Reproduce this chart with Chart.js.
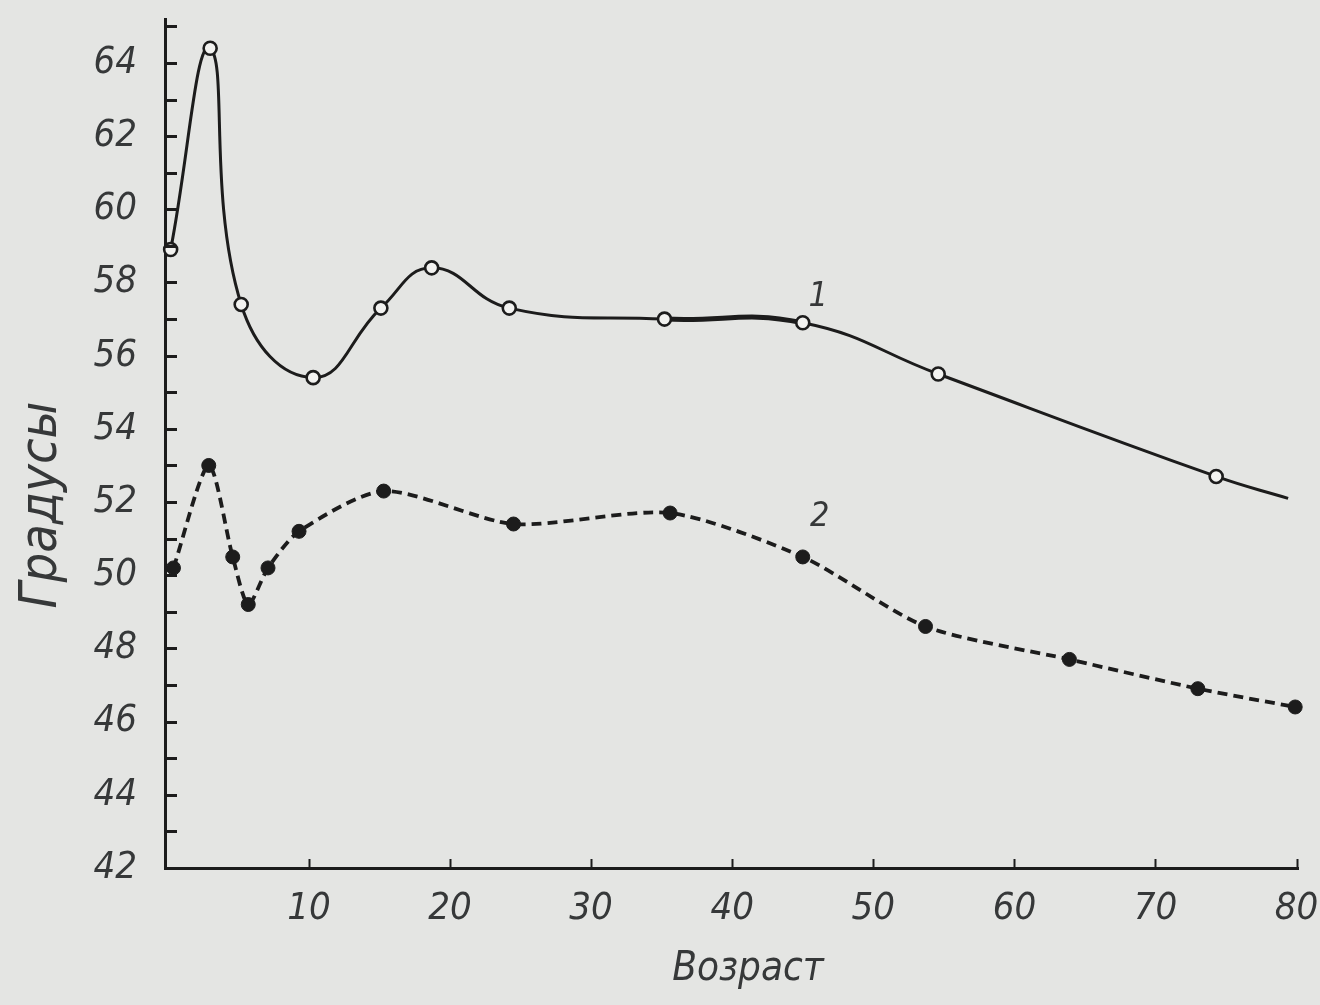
<!DOCTYPE html>
<html>
<head>
<meta charset="utf-8">
<script src="https://cdn.jsdelivr.net/npm/chart.js@4.4.0/dist/chart.umd.min.js"></script>
<style>
  html, body { margin: 0; padding: 0; background: #e4e5e3; }
  #wrap { position: relative; width: 1320px; height: 1005px; }
</style>
</head>
<body>
<div id="wrap"><canvas id="chart" width="1320" height="1005"></canvas></div>
<script>
// Curve 1: open circles, solid line (age in years, degrees)
const ages1 = [0.2, 3, 5.2, 10.3, 15.1, 18.7, 24.2, 35.2, 45, 54.6, 74.3, 79.4];
const degrees1 = [58.9, 64.4, 57.4, 55.4, 57.3, 58.4, 57.3, 57.0, 56.9, 55.5, 52.7, 52.1];

// Curve 2: filled dots, dashed line
const ages2 = [0.4, 2.9, 4.6, 5.7, 7.1, 9.3, 15.3, 24.5, 35.6, 45, 53.7, 63.9, 73, 79.9];
const degrees2 = [50.2, 53.0, 50.5, 49.2, 50.2, 51.2, 52.3, 51.4, 51.7, 50.5, 48.6, 47.7, 46.9, 46.4];

// Axis settings
const xMin = -0.2, xMax = 80.1, xStep = 10;
const yMin = 42, yMax = 65.2, yStep = 1;
const yLabelEvery = 2;

// Curve labels
const curveLabels = [
  { text: '1', x: 46.1, y: 57.6 },
  { text: '2', x: 46.2, y: 51.6 }
];

const axisTitleX = 'Возраст';
const axisTitleY = 'Градусы';

const FONT = "'DejaVu Sans Condensed', 'Liberation Sans Narrow', 'DejaVu Sans', sans-serif";
const INK = '#1c1c1c';
const TEXT = '#363839';

const toPoints = (xs, ys) => xs.map((x, i) => ({ x, y: ys[i] }));

// Inward tick marks, curve numbers and axis titles
const decorations = {
  id: 'decorations',
  afterDraw(chart) {
    const { ctx, chartArea } = chart;
    const xs = chart.scales.x, ys = chart.scales.y;
    ctx.save();
    ctx.strokeStyle = INK;
    ctx.lineCap = 'butt';

    ctx.lineWidth = 3;
    ys.ticks.forEach(t => {
      if (t.value <= yMin) return;
      const py = Math.round(ys.getPixelForValue(t.value)) + 0.5;
      ctx.beginPath();
      ctx.moveTo(chartArea.left, py);
      ctx.lineTo(chartArea.left + 12, py);
      ctx.stroke();
    });

    ctx.lineWidth = 2;
    xs.ticks.forEach(t => {
      if (t.value <= 0) return;
      const px = Math.round(xs.getPixelForValue(t.value)) + 0.5;
      ctx.beginPath();
      ctx.moveTo(px, chartArea.bottom);
      ctx.lineTo(px, chartArea.bottom - 9);
      ctx.stroke();
    });

    ctx.fillStyle = TEXT;
    ctx.textAlign = 'center';
    ctx.textBaseline = 'middle';
    ctx.font = 'italic condensed 34px ' + FONT;
    curveLabels.forEach(l => {
      ctx.fillText(l.text, xs.getPixelForValue(l.x), ys.getPixelForValue(l.y));
    });

    ctx.font = 'italic condensed 40px ' + FONT;
    ctx.fillText(axisTitleX, 748, 970);

    ctx.font = 'italic condensed 52px ' + FONT;
    ctx.translate(42, 505);
    ctx.rotate(-Math.PI / 2);
    ctx.fillText(axisTitleY, 0, 0);
    ctx.restore();
  }
};

const tickFont = { family: FONT, size: 38, style: 'italic', weight: 'condensed', lineHeight: 0.2 };

new Chart(document.getElementById('chart'), {
  type: 'line',
  data: {
    datasets: [
      {
        label: '1',
        data: toPoints(ages1, degrees1),
        borderColor: INK,
        borderWidth: 3,
        tension: 0.45,
        pointStyle: 'circle',
        pointRadius: ages1.map((_, i) => i === ages1.length - 1 ? 0 : 6.5),
        pointBackgroundColor: '#f2f2f0',
        pointBorderColor: INK,
        pointBorderWidth: 2.6,
        clip: false,
        segment: {
          borderWidth: ctx => ctx.p0DataIndex === 7 ? 5 : 3
        }
      },
      {
        label: '2',
        data: toPoints(ages2, degrees2),
        borderColor: INK,
        borderWidth: 3.8,
        borderDash: [10, 6],
        tension: 0.25,
        pointStyle: 'circle',
        pointRadius: 7,
        pointBackgroundColor: INK,
        pointBorderColor: INK,
        pointBorderWidth: 1,
        clip: false
      }
    ]
  },
  options: {
    responsive: false,
    animation: false,
    layout: { padding: { left: 0, right: 22, top: 19, bottom: 0 } },
    plugins: {
      legend: { display: false },
      tooltip: { enabled: false }
    },
    scales: {
      x: {
        type: 'linear',
        min: xMin,
        max: xMax,
        grid: { display: false },
        border: { display: true, color: INK, width: 3 },
        ticks: {
          stepSize: xStep,
          includeBounds: false,
          autoSkip: false,
          maxRotation: 0,
          padding: 29,
          color: TEXT,
          font: tickFont,
          callback: v => (v > 0 ? String(v) : '')
        },
        afterFit: s => { s.height = 137; s.paddingLeft = 0; s.paddingRight = 0; }
      },
      y: {
        type: 'linear',
        min: yMin,
        max: yMax,
        grid: { display: false },
        border: { display: true, color: INK, width: 3 },
        ticks: {
          stepSize: yStep,
          includeBounds: false,
          autoSkip: false,
          padding: 20,
          color: TEXT,
          font: tickFont,
          callback: v => (v % yLabelEvery === 0 && v <= 64 ? String(v) : '')
        },
        afterFit: s => { s.width = 165; s.paddingTop = 0; s.paddingBottom = 0; }
      }
    }
  },
  plugins: [decorations]
});
</script>
</body>
</html>
